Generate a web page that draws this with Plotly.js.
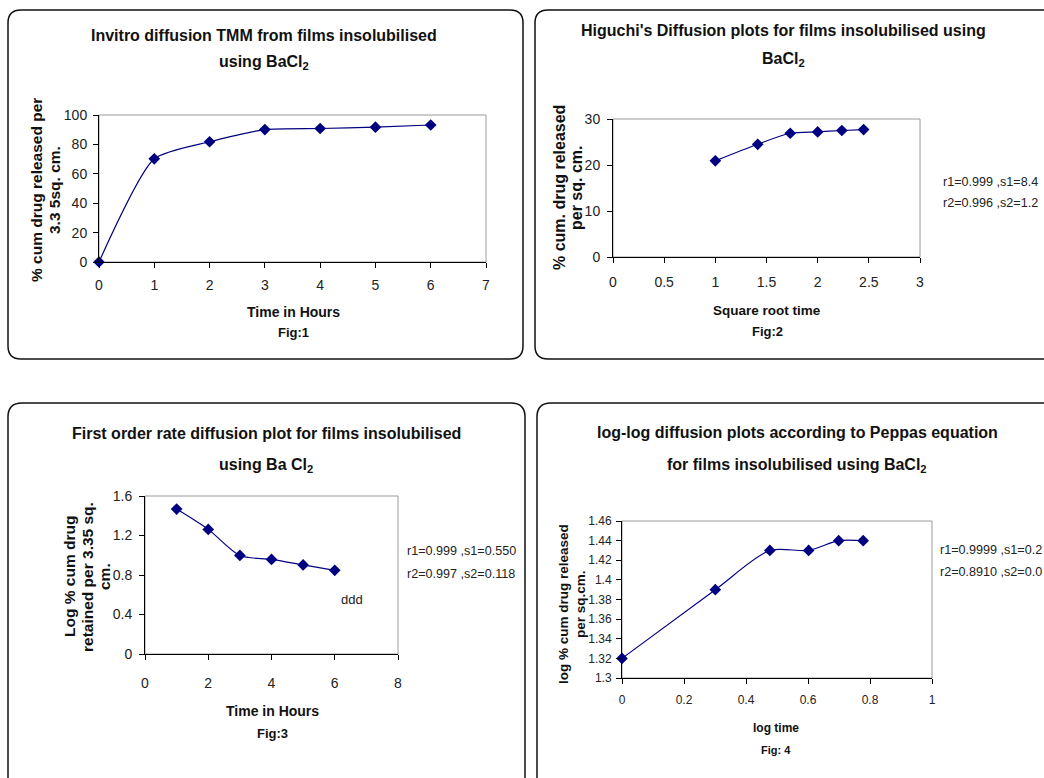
<!DOCTYPE html>
<html>
<head>
<meta charset="utf-8">
<script src="https://cdn.plot.ly/plotly-3.0.1.min.js"></script>
<style>
  html, body { margin: 0; padding: 0; background: #fff; }
  #chart { width: 1044px; height: 778px; }
</style>
</head>
<body>
<div id="chart"></div>
<script>
// ---------------- DATA ----------------
const fig1Time = [0, 1, 2, 3, 4, 5, 6];
const fig1Released = [0, 70.2, 81.8, 90.1, 90.8, 91.7, 93.2];

const fig2SqrtTime = [1, 1.414, 1.732, 2, 2.236, 2.449];
const fig2Released = [20.9, 24.5, 26.9, 27.2, 27.5, 27.7];

const fig3Time = [1, 2, 3, 4, 5, 6];
const fig3LogRetained = [1.468, 1.262, 0.998, 0.958, 0.902, 0.847];

const fig4LogTime = [0, 0.301, 0.477, 0.602, 0.699, 0.778];
const fig4LogReleased = [1.32, 1.39, 1.43, 1.43, 1.44, 1.44];

const fig1TitleLines = ["Invitro diffusion TMM from films insolubilised", "using BaCl<sub>2</sub>"];
const fig2TitleLines = ["Higuchi's Diffusion plots for films insolubilised using", "BaCl<sub>2</sub>"];
const fig3TitleLines = ["First order rate diffusion plot for films insolubilised", "using Ba Cl<sub>2</sub>"];
const fig4TitleLines = ["log-log diffusion plots according to Peppas equation", "for films insolubilised using BaCl<sub>2</sub>"];

const fig1YTitle = ["% cum drug released per", "3.3 5sq. cm."];
const fig2YTitle = ["% cum. drug released", "per sq. cm."];
const fig3YTitle = ["Log % cum drug", "retained per 3.35 sq.", "cm."];
const fig4YTitle = ["log % cum drug released", "per sq.cm."];

const fig1XTitle = ["Time in Hours", "Fig:1"];
const fig2XTitle = ["Square root time", "Fig:2"];
const fig3XTitle = ["Time in Hours", "Fig:3"];
const fig4XTitle = ["log time", "Fig: 4"];

const fig2Stats = ["r1=0.999 ,s1=8.4", "r2=0.996 ,s2=1.2"];
const fig3Stats = ["r1=0.999 ,s1=0.550", "r2=0.997 ,s2=0.118"];
const fig3Extra = "ddd";
const fig4Stats = ["r1=0.9999 ,s1=0.2", "r2=0.8910 ,s2=0.0"];

// ---------------- LAYOUT HELPERS ----------------
const W = 1044, H = 778;
const px = x => x / W;
const py = y => 1 - y / H;
const FONT = "'Liberation Sans', Arial, sans-serif";
const NAVY = '#000080';

function roundedRect(x0, y0, x1, y1, r) {
  const X0 = px(x0), X1 = px(x1), Y0 = py(y0), Y1 = py(y1);
  const rx = r / W, ry = r / H;
  return `M ${X0 + rx},${Y0} L ${X1 - rx},${Y0} Q ${X1},${Y0} ${X1},${Y0 - ry} ` +
         `L ${X1},${Y1 + ry} Q ${X1},${Y1} ${X1 - rx},${Y1} ` +
         `L ${X0 + rx},${Y1} Q ${X0},${Y1} ${X0},${Y1 + ry} ` +
         `L ${X0},${Y0 - ry} Q ${X0},${Y0} ${X0 + rx},${Y0} Z`;
}

const annotations = [];
function txt(x, y, text, font, extra) {
  annotations.push(Object.assign({
    xref: 'paper', yref: 'paper', x: px(x), y: py(y), text: text,
    showarrow: false, xanchor: 'center', yanchor: 'middle',
    font: font
  }, extra || {}));
}

function axisPair(xd, yd, xr, yr, xdt, ydt, fx, fy, sx, sy, n) {
  const s = (n === 1 ? '' : String(n));
  const common = {
    tick0: 0, ticks: 'outside', ticklen: 5, tickcolor: '#000', tickwidth: 1,
    showline: true, linecolor: '#000', linewidth: 1,
    showgrid: false, zeroline: false, fixedrange: true
  };
  const ax = Object.assign({}, common, {
    domain: [px(xd[0]), px(xd[1])], range: xr, dtick: xdt,
    tickfont: {family: FONT, size: fx, color: '#222'}, ticklabelstandoff: sx, anchor: 'y' + s
  });
  const ay = Object.assign({}, common, {
    domain: [py(yd[1]), py(yd[0])], range: yr, dtick: ydt,
    tickfont: {family: FONT, size: fy, color: '#222'}, ticklabelstandoff: sy, anchor: 'x' + s
  });
  return [ax, ay];
}

const [x1a, y1a] = axisPair([99, 486], [115, 262], [0, 7], [0, 100], 1, 20, 14, 14, 5, 3, 1);
const [x2a, y2a] = axisPair([613, 920], [119, 257], [0, 3], [0, 30], 0.5, 10, 14, 14, 7, 4, 2);
const [x3a, y3a] = axisPair([145, 398], [496, 654], [0, 8], [0, 1.6], 2, 0.4, 14, 14, 11, 4, 3);
const [x4a, y4a] = axisPair([622, 932], [521, 678], [0, 1], [1.3, 1.46], 0.2, 0.02, 12, 12, 6, 2, 4);
y3a.tickvals = [0, 0.4, 0.8, 1.2, 1.6];
y3a.ticktext = ['0', '0.4', '0.8', '1.2', '1.6'];
y4a.tickvals = [1.3, 1.32, 1.34, 1.36, 1.38, 1.4, 1.42, 1.44, 1.46];
y4a.ticktext = ['1.3', '1.32', '1.34', '1.36', '1.38', '1.4', '1.42', '1.44', '1.46'];

// ---------------- TRACES ----------------
function series(x, y, n, smooth) {
  const s = (n === 1 ? '' : String(n));
  return {
    type: 'scatter', mode: 'lines+markers', x: x, y: y,
    xaxis: 'x' + s, yaxis: 'y' + s,
    line: {color: NAVY, width: 1.2, shape: 'spline', smoothing: smooth},
    marker: {symbol: 'diamond', size: 9, color: NAVY},
    cliponaxis: false, hoverinfo: 'x+y', showlegend: false
  };
}
const data = [
  series(fig1Time, fig1Released, 1, 0.6),
  series(fig2SqrtTime, fig2Released, 2, 0.8),
  series(fig3Time, fig3LogRetained, 3, 0.8),
  series(fig4LogTime, fig4LogReleased, 4, 0.8)
];

// ---------------- TEXT ----------------
const titleFont = {family: FONT, size: 16, color: '#111'};
const b = s => '<b>' + s + '</b>';

// titles
txt(264, 35, b(fig1TitleLines[0]), titleFont);
txt(264, 63, b(fig1TitleLines[1]), titleFont);
txt(783, 30, b(fig2TitleLines[0]), titleFont);
txt(783, 59, b(fig2TitleLines[1]), titleFont);
txt(266, 433, b(fig3TitleLines[0]), titleFont);
txt(266, 465, b(fig3TitleLines[1]), titleFont);
txt(797, 432, b(fig4TitleLines[0]), titleFont);
txt(797, 465, b(fig4TitleLines[1]), titleFont);

// x titles
txt(293, 312, b(fig1XTitle[0]), {family: FONT, size: 14, color: '#111'});
txt(293, 333, b(fig1XTitle[1]), {family: FONT, size: 13, color: '#111'});
txt(767, 310, b(fig2XTitle[0]), {family: FONT, size: 13.5, color: '#111'});
txt(767, 331, b(fig2XTitle[1]), {family: FONT, size: 13, color: '#111'});
txt(272, 711, b(fig3XTitle[0]), {family: FONT, size: 14, color: '#111'});
txt(272, 733, b(fig3XTitle[1]), {family: FONT, size: 13, color: '#111'});
txt(776, 728, b(fig4XTitle[0]), {family: FONT, size: 12, color: '#111'});
txt(776, 750, b(fig4XTitle[1]), {family: FONT, size: 11, color: '#111'});

// y titles (rotated)
const rot = {textangle: -90};
txt(37, 190, b(fig1YTitle[0]), {family: FONT, size: 15.5, color: '#111'}, rot);
txt(55, 190, b(fig1YTitle[1]), {family: FONT, size: 15.5, color: '#111'}, rot);
txt(560, 188, b(fig2YTitle[0]), {family: FONT, size: 16, color: '#111'}, rot);
txt(577, 188, b(fig2YTitle[1]), {family: FONT, size: 16, color: '#111'}, rot);
txt(69, 577, b(fig3YTitle[0]), {family: FONT, size: 15.5, color: '#111'}, rot);
txt(87, 577, b(fig3YTitle[1]), {family: FONT, size: 15.5, color: '#111'}, rot);
txt(104, 577, b(fig3YTitle[2]), {family: FONT, size: 15.5, color: '#111'}, rot);
txt(563, 604, b(fig4YTitle[0]), {family: FONT, size: 13.5, color: '#111'}, rot);
txt(580, 604, b(fig4YTitle[1]), {family: FONT, size: 13.5, color: '#111'}, rot);

// stats
const statFont = {family: FONT, size: 12.6, color: '#222'};
txt(941, 182, fig2Stats[0], statFont, {xanchor: 'left'});
txt(941, 203, fig2Stats[1], statFont, {xanchor: 'left'});
txt(405, 551, fig3Stats[0], statFont, {xanchor: 'left'});
txt(405, 574, fig3Stats[1], statFont, {xanchor: 'left'});
txt(339, 599, fig3Extra, {family: FONT, size: 13, color: '#222'}, {xanchor: 'left'});
txt(938, 550, fig4Stats[0], statFont, {xanchor: 'left'});
txt(938, 572, fig4Stats[1], statFont, {xanchor: 'left'});

// ---------------- SHAPES ----------------
const shapes = [];
[[8, 10, 523, 359, 13], [535, 10, 1075, 359, 13], [8, 403, 525, 792, 14], [537, 403, 1075, 792, 14]]
  .forEach(r => shapes.push({type: 'path', xref: 'paper', yref: 'paper',
    path: roundedRect(r[0], r[1], r[2], r[3], r[4]), line: {color: '#111', width: 1.5}, layer: 'below'}));
['', '2', '3', '4'].forEach(n => shapes.push({
  type: 'rect', xref: 'x' + n + ' domain', yref: 'y' + n + ' domain',
  x0: 0, x1: 1, y0: 0, y1: 1, line: {color: '#9a9a9a', width: 1}, layer: 'below'
}));

const layout = {
  width: W, height: H,
  margin: {l: 0, r: 0, t: 0, b: 0},
  paper_bgcolor: '#fff', plot_bgcolor: 'rgba(0,0,0,0)',
  showlegend: false,
  xaxis: x1a, yaxis: y1a, xaxis2: x2a, yaxis2: y2a,
  xaxis3: x3a, yaxis3: y3a, xaxis4: x4a, yaxis4: y4a,
  annotations: annotations, shapes: shapes
};

Plotly.newPlot('chart', data, layout, {staticPlot: true, displayModeBar: false});
</script>
</body>
</html>
